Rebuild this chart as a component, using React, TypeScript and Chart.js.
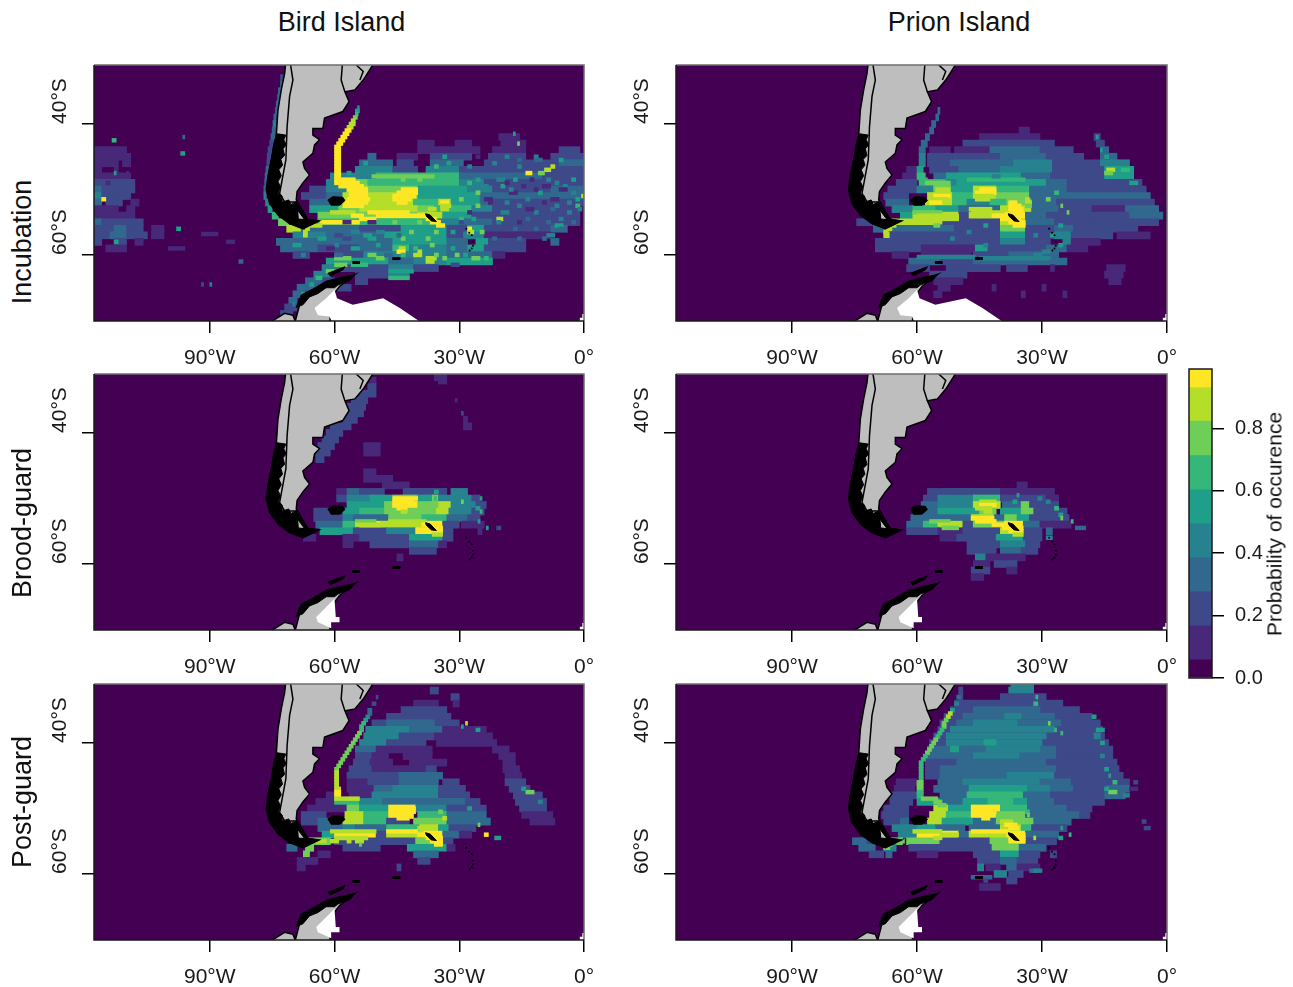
import React, { useEffect, useRef } from "react";
import { Chart, registerables } from "chart.js";

Chart.register(...registerables);

type Row = number[]; // [lat, lon0, lon1, level, lon0, lon1, level, ...]
type Pt = number[]; // [lon, lat]

const levelColors = ["#440154", "#482878", "#3e4989", "#31688e", "#26828e", "#1f9e89", "#35b779", "#6ece58", "#b5de2b", "#fde725"];
const colorbarBreaks = [0, 0.058, 0.167, 0.276, 0.386, 0.495, 0.603, 0.713, 0.823, 0.93, 0.99];
const colorbarTicks = [0, 0.2, 0.4, 0.6, 0.8];
const xTickValues = [-90, -60, -30, 0];
const xTickLabels = ["90°W", "60°W", "30°W", "0°"];
const yTickValues = [-40, -60];
const yTickLabels = ["40°S", "60°S"];

const southAmerica: Pt[] = [[-71.6,-30],[-72,-32.3],[-72.8,-34.8],[-73.6,-37.9],[-74,-41.7],[-75.2,-45.5],[-76,-48],[-76.4,-50],[-75.6,-52.1],[-73.6,-53.9],[-70.8,-55.2],[-67.6,-56],[-63.7,-54.8],[-66.4,-54.6],[-68,-52.9],[-69.2,-51.6],[-69,-50.3],[-67.6,-49],[-66,-47.8],[-67.2,-46.8],[-67.6,-45.8],[-65.2,-44.5],[-64.8,-43.2],[-63.6,-42.4],[-65.2,-41.7],[-65.2,-40.7],[-62.8,-40.7],[-62.4,-39.1],[-58,-38.1],[-56.5,-36.6],[-57.5,-35.1],[-55.1,-34.8],[-53.1,-33.3],[-50.7,-30.9],[-50.3,-30],[-71.6,-30]];
const chileFjords: Pt[] = [[-73.8,-41.5],[-74.6,-43],[-75.2,-45.5],[-76,-48],[-76.4,-50],[-75.6,-52.1],[-73.6,-53.9],[-70.8,-55.2],[-67.6,-56],[-63.7,-54.8],[-66.4,-54.6],[-67.2,-53.7],[-68.5,-52.6],[-69.2,-51.9],[-70.5,-52.3],[-71,-51.6],[-72.4,-51.9],[-72.6,-51],[-73.6,-50.6],[-73,-49.6],[-73.6,-48.8],[-72.8,-47.9],[-73.4,-47],[-72.5,-46.3],[-72.9,-45.4],[-72,-44.8],[-72.4,-43.8],[-71.6,-43.2],[-72.2,-42.4],[-71.7,-41.7],[-73.8,-41.5]];
const fuegoLand: Pt[] = [[-69.2,-52.9],[-67.2,-54.6],[-68.8,-54.5],[-69.2,-52.9]];
const andesBorder: Pt[] = [[-70.8,-30],[-70,-33.3],[-70.8,-35.8],[-71.4,-40.4],[-71.7,-45.5],[-73.2,-50.6],[-72,-51.9],[-69.2,-51.9],[-68.8,-54.1],[-68.8,-55]];
const uruguayWest: Pt[] = [[-58,-30],[-58.4,-33.3],[-57.5,-35.1]];
const uruguayEast: Pt[] = [[-55.1,-30.8],[-53.1,-32],[-53.9,-33.3]];
const falklands: Pt[] = [[-61.6,-51.6],[-60.4,-51.1],[-58,-51.2],[-57.5,-51.7],[-58.8,-52.4],[-60.8,-52.4],[-61.6,-51.6]];
const southGeorgia: Pt[] = [[-38.1,-53.7],[-37,-53.9],[-35.5,-54.9],[-36.7,-54.8],[-37.9,-54.1],[-38.1,-53.7]];
const southOrkney: Pt[] = [[-46,-60.4],[-44.3,-60.4],[-44.3,-60.7],[-46,-60.7],[-46,-60.4]];
const elephantIsland: Pt[] = [[-55.6,-61],[-54,-61],[-54,-61.3],[-55.6,-61.3],[-55.6,-61]];
const southShetland: Pt[] = [[-61.6,-62.8],[-57.5,-61.8],[-58,-62.3],[-61,-63.2],[-61.6,-62.8]];
const southSandwich: Pt[] = [[-28.3,-56],[-27.6,-56.6],[-27,-57],[-26.7,-58],[-26.7,-58.6],[-27,-59],[-27.5,-59.3]];
const peninsula: Pt[] = [[-69.6,-70.5],[-68.4,-67.6],[-66,-65.9],[-62,-64.6],[-58.8,-63.9],[-55.1,-63],[-58.8,-64.8],[-60,-65.8],[-60.5,-67],[-61.2,-70.5],[-69.6,-70.5]];
const peninsulaEdge: Pt[] = [[-69.2,-68],[-68,-66.1],[-65.2,-65.2],[-62,-64],[-58.4,-63.4],[-55.1,-63],[-56.3,-63.9],[-59.2,-64.6],[-60,-65],[-62,-65],[-64,-65.9],[-66,-66.4],[-67.6,-67.6],[-69.2,-68]];
const alexanderLand: Pt[] = [[-76,-70.5],[-72,-68.9],[-70,-69.2],[-69.2,-70.5],[-76,-70.5]];
const iceShelfWide: Pt[] = [[-64.8,-68.1],[-62,-66.6],[-60,-65.3],[-59.4,-66.6],[-55.6,-67.6],[-48.3,-66.6],[-44.3,-68.1],[-38.7,-70.5],[-60.4,-70.5],[-61.2,-69.4],[-64,-69.2],[-64.8,-68.1]];
const iceShelfSmall: Pt[] = [[-64.4,-68.1],[-60,-65.3],[-59.7,-68.1],[-58.8,-68.1],[-58.8,-68.9],[-60.8,-68.9],[-60.8,-69.8],[-64,-68.9],[-64.4,-68.1]];
const iceCorner: Pt[] = [[-1,-70.5],[-1,-69.6],[-0.4,-69.6],[-0.4,-69],[0,-69],[0,-70.5],[-1,-70.5]];

const birdIncubationBroad: Row[] = [
[-33,-73,-72.2,2],[-34,-73,-72.2,3],[-35,-73.5,-72.6,3],[-36,-73.7,-73,3],[-37,-74,-73.4,3],[-38,-74.2,-73.6,3],[-39,-74.6,-74,3],[-40,-74.8,-74,4],[-41,-75,-74.2,3],
[-42,-75.3,-74.3,3,-20.5,-15.5,1],
[-43,-75.6,-74.6,2,-40,-36,1,-31,-27,1,-20,-14,1],
[-44,-118,-110,1,-76,-75,2,-40,-25,1,-22,-14,1,-6,-1,2],
[-45,-118,-109,1,-76.2,-75.2,2,-52,-50,3,-45,-40,1,-37,-27,2,-23,-14,2,-8,0,2],
[-46,-118,-112,1,-111,-109,1,-76.3,-75.5,2,-54,-46,3,-45,-41,2,-37,-29,3,-24,-6,2,-6,0,3],
[-47,-118,-116,1,-113,-112,1,-76.5,-75.8,3,-55,-46,4,-46,-40,2,-38,-30,4,-30,-24,2,-24,0,2],
[-48,-118,-109,1,-76.7,-76,3,-61,-55,4,-55,-50,4,-50,-30,6,-30,-10,3,-10,0,2],
[-49,-118,-108,2,-76.8,-76.2,3,-62,-59,4,-59,-52,7,-52,-30,6,-30,-24,4,-24,0,2],
[-50,-118,-116,3,-116,-108,2,-77,-76.3,3,-66,-62,2,-62,-57,4,-57,-52,8,-52,-40,7,-40,-28,5,-28,-22,4,-22,-8,2,-8,0,3],
[-51,-118,-116,4,-116,-109,2,-77,-76.4,4,-68,-62,2,-62,-58,3,-58,-40,8,-40,-25,5,-25,0,3],
[-52,-118,-116,3,-115,-111,2,-109,-107,1,-76.6,-75.8,4,-66,-58,3,-58,-41,8,-41,-35,6,-35,-32,8,-32,-25,5,-25,-22,3,-22,0,2],
[-53,-118,-112,1,-110,-108,1,-76,-75,5,-66,-59,5,-59,-54,7,-54,-40,8,-40,-36,7,-36,-27,6,-27,-22,4,-22,-1,2],
[-54,-118,-108,1,-75,-73.5,6,-64,-40,7,-40,-34,8,-34,-27,5,-27,-1,2],
[-55,-118,-116,3,-116,-106,2,-73.5,-71,7,-64,-35,6,-35,-30,4,-30,-22,3,-22,-1,2],
[-56,-118,-113,2,-113,-110,3,-110,-106,2,-104,-101,1,-71.5,-67,8,-68,-54,3,-54,-44,2,-44,-33,5,-33,-28,2,-28,-24,5,-24,-8,2,-8,-4,3],
[-57,-118,-114,2,-114,-110,3,-110,-105,2,-104,-101,1,-70,-62,4,-62,-48,3,-48,-33,5,-33,-29,2,-29,-24,4,-24,-8,1],
[-58,-118,-116,2,-113,-110,2,-108,-106,1,-74,-66,3,-66,-46,3,-46,-33,5,-33,-28,3,-26,-23,5,-23,-14,2,-8,-6,3],
[-59,-115,-110,1,-73,-64,3,-64,-54,2,-54,-46,3,-46,-42,6,-42,-33,4,-33,-28,3,-28,-24,5,-24,-14,2],
[-60,-70,-66,2,-60,-53,2,-53,-33,4,-33,-22,3,-22,-19,1],
[-61,-62,-47,5,-47,-41,3,-41,-33,4,-33,-22,5],
[-62,-63,-58,4,-58,-47,2,-47,-41,4,-41,-35,2],
[-63,-65,-61,4,-55,-47,2,-47,-42,4],
[-64,-67,-63,3,-63,-60,2,-55,-52,2],
[-65,-69,-64,3,-64,-56,2],
[-66,-70,-67,3,-67,-64,2],
[-67,-71,-69,3],
[-68,-72,-69,2],
[-69,-73,-70,2],
];
const birdIncubationFine: Row[] = [
[-37.5,-54.5,-54,4],[-38,-55,-54,5],[-38.5,-55,-54.3,6],[-39,-55.5,-54.5,7],[-39.5,-56,-55,8],[-40,-56.5,-55,8],[-40.5,-57,-55.5,8],[-41,-57.5,-56,9],[-41.5,-58,-56.5,9],[-42,-58.5,-57,9],[-42.5,-59,-57.5,9],[-43,-59.5,-58,9],[-43.5,-60,-58.5,9],[-44,-60,-58.5,9],[-44.5,-60,-58.5,9],[-45,-60,-58.5,9],[-45.5,-60,-58.5,9],[-46,-60,-58.5,9],[-46.5,-60,-58.5,9],[-47,-60,-58.5,9],[-47.5,-60,-58.5,9],[-48,-60,-58.5,9,-51,-36,7],
[-48.5,-60,-55,9],[-49,-60,-54,9],[-49.5,-59,-53,9],[-50,-57,-52,9,-44,-40,9],[-50.5,-56.5,-52,9,-45,-40,9],[-51,-56.5,-52,9,-46,-40.5,9],[-51.5,-57,-51.5,9,-46,-41.5,9],[-52,-57.5,-52,9,-45,-42.5,9,-34.5,-32.5,9],[-52.5,-58,-53,9,-34.5,-32,8],
[-53,-37.5,-35.5,8,-34.5,-32.5,8],[-53.5,-61,-55,8,-52,-42,9],[-54,-56,-53,9,-50,-38,9],[-54.5,-54,-50,9,-38,-35.5,9,-21,-19.5,8],[-55,-63.5,-54,9,-37,-34.5,9],[-55.5,-66.5,-63,8,-35.5,-33.5,9],[-56,-67,-66,8,-28,-27,9],[-56.5,-67.5,-66.5,8,-28,-26.5,8],[-57,-67.5,-66.5,8],
[-59,-44.5,-43,8],[-59.5,-45,-43,9,-40,-39,8],[-60,-41,-39,8],[-60.5,-38,-35.5,8],[-61,-38,-36,8],
[-47.5,-14,-12.5,9,-11,-9.5,7],[-47,-9.5,-8,8],[-46.5,-8,-7,8],[-43,-16,-15.5,7],
[-41.5,-17,-16.5,5],[-51,-0.6,0,8],[-52.5,-2,-1,6],[-55.5,-7,-5,5],[-57,-9,-7,4],
[-42,-96.5,-96,3],[-44.5,-97,-96,5],[-47.5,-110,-109.5,1],[-49,-115,-114,1],[-47.5,-113,-112.5,5],[-51.5,-116,-115,9],[-42.5,-113.5,-112.5,6],[-56,-98,-97,5],[-58,-113,-112,5],[-61,-83,-82,3],[-64.5,-90,-89.5,4],[-64.5,-92,-91.5,2],[-56.8,-92,-88,1],[-58,-86,-84,1],[-59,-100,-96,1],
[-47.5,-57,-56,5],[-46,-53,-52,5,-33,-32,5,-22,-21,4],[-45,-34,-33,5,-26,-25,1,-19,-18,4,-12,-11,4],[-46.5,-36,-35,6,-28,-27,4,-16,-15,4],
[-49.5,-24,-23,4,-20,-19,5,-15,-14,1,-10,-8,1,-5,-4,4],[-50.5,-26,-25,7,-18,-16,1,-11,-10,5,-3,-2,4],[-51.5,-30,-29,7,-24,-22,1,-14,-13,4,-8,-6,1,-2,-1,5],[-52.5,-26,-25,7,-16,-15,4,-7,-6,4],[-53.5,-28,-27,1,-20,-18,4,-12,-11,4,-4,-3,4],[-54.5,-30,-29,6,-27,-26,5,-14,-13,3,-6,-5,4],
[-55,-58,-56,1,-52,-50,1,-46,-45,7,-40,-39,7,-30,-29,2],[-56.5,-56,-54,4,-50,-48,4,-42,-41,7,-36,-35,7,-32,-31,5,-25,-24,7],[-57.5,-64,-62,5,-58,-56,2,-52,-50,5,-44,-43,7,-38,-37,7],[-58.5,-70,-68,5,-60,-59,4,-50,-49,5,-37,-36,7],[-60,-52,-50,7,-44,-43,6,-36,-35,7,-31,-30,7],[-60.5,-60,-56,7,-50,-48,7,-34,-33,7,-27,-25,7,-24,-23,6],[-61.5,-60,-57,7,-56,-52,6,-32,-30,2],
[-62.5,-62,-60,7,-47,-41,5],[-63.5,-64.5,-63,6,-47,-42,6],[-64.5,-66,-65,5],[-66,-68,-67,5],[-67.5,-70,-69.5,4],
[-45.5,-16,-15,3,-12,-10,3,-6,-5,5],[-48.5,-26,-25,5,-21,-19,4,-17,-16,5,-13,-12,1,-9,-8,4,-3,-2,5],[-49,-28,-27,6,-19,-18,1,-7,-6,4],[-50,-18,-17,4,-12,-11,1,-6,-4,1],[-52,-23,-22,1,-19,-18,4,-10,-9,1,-4,-3,4],[-53,-14,-12,1,-8,-7,3,-1.5,-0.5,4],[-55,-21,-20,4,-16,-15,1,-9,-8,3,-3,-2,3],[-56,-17,-16,3,-12,-11,3,-6,-5,3],[-57.5,-22,-21,3,-16,-15,3,-10,-9,3],
[-48.5,-44,-43,7,-40,-39,7],[-57,-60,-58,2,-53,-51,5,-45,-44,3],[-59,-62,-60,1,-56,-54,5,-41,-40,6,-32,-31,5],[-60,-68,-67,4,-60,-58,3,-48,-46,3,-29,-28,5],
];

const prionIncubationBroad: Row[] = [
[-38,-55,-54.5,3],[-39,-55.5,-54.8,3],[-40,-56.5,-55.5,3],
[-41,-57,-56,3,-35.5,-33,1],
[-42,-58,-57,3,-45,-30.5,1,-17.5,-16,2],
[-43,-59,-57.5,3,-49,-27,2,-17,-15,2],
[-44,-59.5,-58,3,-57,-52,1,-51,-42.5,1,-42.5,-30.5,3,-30.5,-22.5,2,-16,-14,3],
[-45,-59.5,-58,4,-57.5,-51.5,2,-51.5,-40,2,-40,-29,3,-29,-20,2,-16,-12,3],
[-46,-59.5,-58,4,-57.5,-52,2,-52,-40,3,-37,-27.5,4,-40,-37,3,-27.5,-16,2,-16,-9,4],
[-47,-62.5,-60,1,-60,-58.5,5,-57,-50,2,-50,-40,3,-40,-27.5,4,-27.5,-15,2,-15,-8,5],
[-48,-63.5,-60,1,-60,-58,6,-56,-53,3,-53,-35,5,-35,-28,3,-28,-15,2,-15,-8,5],
[-49,-65,-60,2,-59.5,-53,6,-53,-50.5,4,-50.5,-29,5,-29,-24,3,-24,-6,2],
[-50,-67,-60,2,-60,-56,4,-56,-52,7,-52,-46.5,5,-46.5,-41,8,-41,-33,6,-33,-24,3,-24,-5,2],
[-51,-68,-62,2,-57.5,-51.5,8,-51.5,-46.5,6,-46.5,-41,8,-41,-33,7,-33,-26,3,-26,-4,3],
[-52,-67.5,-62,3,-58,-51.5,8,-51.5,-48,6,-48,-42.5,4,-42.5,-38.5,6,-38.5,-32.5,7,-32.5,-26.5,3,-26.5,-3,2],
[-53,-66,-61,4,-61,-55.5,6,-55.5,-50,5,-50,-40,3,-40,-32.5,8,-32.5,-26,3,-26,-18,2,-18,-10,1,-10,-2,3],
[-54,-64,-61,5,-61,-50,8,-50,-47.5,2,-47.5,-40,8,-40,-34,9,-34,-29,3,-29,-18,2,-18,-9,2,-9,-1,3],
[-55,-74.5,-69,2,-66,-54.5,8,-54.5,-40,2,-40,-34,8,-34,-27,3,-27,-18,2,-18,-2,2],
[-56,-70.5,-68,3,-68,-51,3,-51,-40,2,-40,-34,7,-34,-27,2,-27,-22.5,3,-22.5,-7,2],
[-57,-68,-66.5,8,-66.5,-40,2,-40,-34,5,-34,-27,2,-27,-23,4,-23,-13,2,-12,-4,1],
[-58,-70,-40,2,-40,-34,4,-34,-28,2,-25,-23,4,-23,-16,1],
[-59,-70,-59,2,-59,-46,1,-46,-43,5,-43,-29,2,-29,-24,3,-24,-19,1],
[-60,-66,-62,1,-59,-47,1,-46.5,-38,2,-38,-30.5,3,-30.5,-26,3],
[-61,-62,-54.5,3,-54.5,-46.5,2,-46.5,-24,3],
[-62,-62.5,-57,2,-53,-40,2,-38.5,-33.5,2,-28,-27,1,-14.5,-10,1],
[-63,-57,-48,2,-15,-10.5,1],
[-64,-56,-49,1,-14,-11,1],
[-65,-55,-52,1,-42,-41,1,-30,-29,1],
[-66,-56,-54,1,-35,-34,1,-25,-24,1],
];
const prionIncubationFine: Row[] = [
[-48.5,-59.5,-57.5,6],[-49,-58,-52,7],[-49.5,-56,-52,7],[-50,-55.5,-52,8],[-50.5,-55.5,-52,8],[-51,-56,-52,9],[-51.5,-56,-52.5,8],[-52,-57,-54,9],
[-50,-45,-41,9],[-50.5,-46,-41,9],[-51,-46.5,-41.5,8],[-51.5,-46,-42.5,8],
[-48.5,-48,-34,6],[-53.5,-61,-54,7],[-54,-60,-50,8],[-54.5,-55,-50,8],
[-53,-47.5,-42,8],[-53.5,-47,-39,8],[-54,-42,-38,9],[-54.5,-40,-35,9],[-55,-38,-34,9],[-55.5,-37,-34,9],
[-52,-38,-36,9],[-52.5,-38,-35,9],[-53,-38,-34.5,9],[-53.5,-37,-34.5,9],[-51.5,-34,-33,8],[-52,-34,-32.5,8],[-52.5,-34,-32.5,7],
[-55,-65,-62,8,-61,-60,8,-59,-54,8],[-55.5,-66,-65,8,-56,-54.5,7],[-56,-67.5,-66,8],[-56.5,-68,-67,8],
[-47,-14.5,-12.5,8],[-47.5,-15,-13,7],[-47,-11,-9,6],[-49,-9,-7,5],[-45,-15,-14,5],[-42,-17,-16.5,5],[-44,-16,-15.5,5],
[-51.5,-29,-28,7],[-50.5,-27,-26,6],[-52.5,-25.5,-25,7],[-53.5,-24,-23.5,7],[-55.5,-26,-25,5],[-46,-18,-17,2],
[-60.3,-60,-46,4],[-60.5,-45,-28,4],[-57,-28,-27,5],[-58.5,-26,-25,5],[-59.5,-30,-28,4],[-60,-32,-30,4],
[-48,-42,-40,4],[-55.5,-44,-43,5],[-56.5,-48,-47,4],[-57.5,-52,-51,4],[-58.5,-44,-43,4],[-57,-32,-31,4],
];

const birdBroodBroad: Row[] = [
[-31.5,-36,-33,1],[-32,-51.5,-50,1,-35,-33,1],[-33,-52,-50,2],[-34,-54,-50,2],[-35,-56,-52,2],[-36,-57,-52.5,2],[-37,-57,-53,2],[-38,-58,-54.5,2,-29,-28,1],[-39,-61,-56,2,-29,-27,1],[-40,-62,-58,2],[-41,-63,-59,2],[-42,-64,-60,2,-53,-49,1],[-43,-64.5,-61,2,-53,-49,1],[-44,-64.5,-62.5,2],
[-46,-53,-50,1],[-47,-53,-50,1,-50,-46,1],[-48,-48.5,-42,1],
[-49,-59.5,-57,1,-57,-54,3,-54,-48,2,-43.5,-33,2,-32,-28,4],
[-50,-59.5,-57,2,-57,-51.5,4,-51.5,-46,5,-46,-40,7,-40,-36.5,5,-36.5,-35,7,-35,-27,4,-27,-25,2],
[-51,-57,-48,5,-48,-46,7,-46,-40,9,-40,-35,7,-35,-32,8,-32,-26,4,-26,-23.5,2],
[-52,-65,-61,2,-58,-54,5,-54,-48,6,-48,-40,7,-40,-35.5,7,-35.5,-32.5,8,-32.5,-27,4,-27,-24,2],
[-53,-65,-58,2,-58,-55.5,4,-55.5,-47,3,-47,-39,7,-39,-33,6,-33,-28,3,-28,-25,2],
[-54,-64.5,-58,3,-58,-54,6,-54,-49,9,-49,-38,8,-38,-34,9,-34,-30,2,-29.5,-24,1],
[-55,-63.5,-55.5,5,-55.5,-47.5,2,-47.5,-40.5,4,-40.5,-34,9,-34,-31.5,2,-25.5,-24.5,1],
[-56,-67.5,-64.5,1,-58,-54,1,-54,-42,2,-42,-34,5,-34,-31.5,2],
[-57,-58,-55.5,1,-51.5,-42,2,-42,-35,3,-35,-33,1],
[-58,-42,-35.5,2],
[-59,-45,-43.5,1],
];
const birdBroodFine: Row[] = [
[-50,-46,-40,9],[-50.5,-46,-41,9],[-51,-46,-41.5,9],[-51.5,-45,-42.5,9],[-52,-44,-42.5,8],
[-53.5,-47,-38,8],[-54,-39,-36,9],[-54.5,-38,-34,9],[-55,-37,-34,9],[-55.5,-36.5,-34,8],
[-53.5,-55,-50,7],[-54,-55,-49,8],
[-50,-25,-24.5,5],[-50.5,-29.5,-29,7],[-51.5,-26,-25,5],[-52,-25,-24.5,6],[-53.5,-25.5,-25,5],[-54.5,-23.5,-23,5],[-54.5,-21,-20,2],
[-37,-29.5,-29,2],[-35,-31,-30.5,1],[-49,-36,-35,5],[-50,-36,-35.5,6],
];

const prionBroodBroad: Row[] = [
[-48,-36,-33.5,1],
[-49,-57.5,-53,2,-53,-40,2,-40,-27,1],
[-50,-58.5,-55,2,-55,-46.5,4,-46.5,-40,6,-40,-35,2,-35,-29,2,-29,-26,1],
[-51,-59,-55,3,-55,-46.5,4,-46.5,-40,8,-39.5,-35,3,-35,-33,7,-33,-26,2],
[-52,-60,-55,3,-55,-45,5,-45,-41,7,-40,-35,5,-35,-32,7,-32,-24,2],
[-53,-61.5,-56,3,-56,-49,3,-49,-47,3,-47,-41.5,8,-41.5,-39,3,-39,-36,7,-36,-33,5,-33,-23.5,2],
[-54,-62.5,-58.5,3,-58.5,-54.5,6,-54.5,-49,8,-49,-46.5,2,-46.5,-39,7,-39,-34.5,9,-34.5,-30.5,3,-30.5,-23,1],
[-55,-62.5,-55,2,-55,-49,1,-49,-40,2,-40,-34.5,8,-34.5,-30,2,-29,-27.5,3],
[-56,-54.5,-50.5,1,-50.5,-41,2,-41,-34.5,5,-34.5,-30,2],
[-57,-48,-40,2,-40,-34,4,-34,-30.5,2],
[-58,-48,-45,2,-45,-41,2,-40,-35,3,-35,-31,2],
[-59,-46,-43.5,4,-43.5,-34,1],
[-60,-46.5,-42.5,1,-41.5,-36,2],
[-61,-47,-42.5,2,-38.5,-36,1],
[-62,-47,-44,1],
];
const prionBroodFine: Row[] = [
[-50.5,-45,-41,8],[-51,-45,-41,9],[-51.5,-46,-42,8],[-52,-44,-42,8],
[-53,-47,-41.5,9],[-53.5,-46,-41,9],[-54,-42,-38,9],[-54.5,-39.5,-34.5,9],[-55,-38,-34.5,9],[-55.5,-37,-34.5,8],
[-53.5,-57,-52,7],[-54,-55,-50,8],[-54.5,-54,-50,7],
[-50,-31,-30,4],[-50.5,-29,-28,4],[-51.5,-27,-26,6],[-52.5,-26,-25,5],[-53,-25.5,-25,7],[-53.5,-23,-22.5,6],[-54.5,-22,-19.5,3],
[-56,-29,-27.5,4],[-49.5,-36,-35.5,5],[-50.5,-37,-36,5],
];

const birdPostBroad: Row[] = [
[-32,-37,-35,2],[-33,-32,-30,2],[-34,-41,-35,1,-31.5,-30,1],
[-35,-44,-33,2],
[-36,-47.5,-32,2],
[-37,-51,-30,2,-47.5,-36,3],
[-38,-52.5,-42,4,-42,-34,3,-34,-23.5,1],
[-39,-53,-44.5,4,-44.5,-36,2,-36,-22,1],
[-40,-54,-47.5,4,-47.5,-38,2,-35.5,-21,1],
[-41,-55,-50,3,-50,-46.5,1,-46.5,-36.5,1,-22,-18,1],
[-42,-55,-51,2,-51,-47,1,-43.5,-36.5,1,-20.5,-16.5,1],
[-43,-55.5,-51.5,2,-51.5,-46,1,-42,-33,1,-19.5,-16.5,1],
[-44,-56.5,-51,2,-51,-47.5,1,-47.5,-36,1,-38,-35.5,2,-19.5,-15.5,1],
[-45,-57,-50,2,-50,-44.5,2,-44.5,-34,3,-19,-15,1],
[-46,-57,-52,1,-52,-44.5,2,-44.5,-35,3,-34,-30,2,-19,-14,2],
[-47,-57,-50.5,1,-50.5,-46,3,-46,-35,4,-35,-28.5,2,-18,-13,2],
[-48,-62,-60,1,-56.5,-51,1,-51,-35,4,-35,-27.5,2,-17,-10,2],
[-49,-64.5,-60,1,-60,-54,6,-54,-48.5,4,-48.5,-28.5,3,-28.5,-25,2,-16.5,-9,2],
[-50,-66.5,-61,1,-61,-57,1,-57,-54,7,-54,-47,5,-47,-40.5,9,-40.5,-33,4,-33,-23.5,2,-15.5,-9,2],
[-51,-68,-62,2,-57.5,-53,8,-53,-47,6,-47,-41,9,-40,-33,6,-33,-23.5,3,-15,-7.5,1],
[-52,-68,-64,2,-64,-61,3,-58,-53,8,-53,-47.5,6,-47.5,-42,2,-41,-33,7,-33,-22.5,3,-13,-7,1],
[-53,-64,-58,3,-58,-55,4,-55,-47.5,3,-47.5,-39.5,6,-39.5,-35,8,-35,-32.5,5,-32.5,-26,2],
[-54,-63,-60,5,-60,-50,9,-50,-47.5,2,-47.5,-38.5,8,-38.5,-34,9,-34,-30,3,-30,-27,1],
[-55,-66,-61,7,-60,-50,2,-50,-40.5,2,-40.5,-34,7,-34,-31.5,2],
[-56,-71.5,-69,3,-67,-65,7,-58,-49,2,-42.5,-33,5,-33,-31,1],
[-57,-67.5,-66,7,-41,-35,3,-64,-61,1],
[-58,-69,-64.5,1,-40,-37,2,-66.5,-64,1],
[-59,-69,-67,1,-45,-44,2],
];
const birdPostFine: Row[] = [
[-33,-50,-49.5,2],[-34,-51,-50,2],[-35,-52,-51,3],[-35.5,-52,-51,3],[-36,-52.5,-51.5,4],[-36.5,-53,-52,5],[-37,-53.5,-52.5,6],[-37.5,-54,-53,6],[-38,-54,-53,6],[-38.5,-54.5,-53.5,7],[-39,-55,-54,7],[-39.5,-55.5,-54.5,7],[-40,-56,-55,7],[-40.5,-56.5,-55.5,7],[-41,-57,-56,7],[-41.5,-57.5,-56.5,7],[-42,-58,-57,7],[-42.5,-58.5,-57.5,7],[-43,-59,-58,7],[-43.5,-59.5,-58.5,7],[-44,-60,-59,7],[-44.5,-60,-59,8],[-45,-60,-59,8],[-45.5,-60,-59,8],[-46,-60,-59,8],[-46.5,-60,-59,8],[-47,-60,-58.5,8],[-47.5,-60,-58.5,9],[-48,-60,-58.5,9],[-48.5,-60,-54,8],
[-50,-46,-40.5,9],[-50.5,-46.5,-40.5,9],[-51,-46.5,-41.5,9],[-51.5,-45,-42,9],
[-53,-40,-38,8],[-53.5,-61,-50,8,-47.5,-40,9],[-54,-40,-35,9],[-54.5,-38,-34,9],[-55,-37,-34,9],[-55.5,-36,-34,9],
[-54.5,-60,-52,8],[-55,-66,-62,8,-61,-59,8,-57,-56,8,-55,-53,8],[-55.5,-67,-65,7,-54,-53.5,7],
[-51.5,-34,-33,8],[-50.5,-35,-34,7],[-52.5,-25.5,-25,7],[-54,-24,-23,9],[-54.5,-21.5,-20,5],[-37,-28.5,-28,8],[-37.5,-29.5,-29,5],[-38,-26,-25,5],[-47.5,-14,-12,7],[-47,-15,-14,5],[-49,-11,-10,4],[-50,-28,-27,5],
];

const prionPostBroad: Row[] = [
[-31.5,-37.5,-32,4],[-32,-50,-49,2,-38,-32,4],
[-33,-50,-49,2,-40,-29,2],
[-34,-51,-25,2],
[-35,-52,-21,2,-46.5,-30.5,3],
[-36,-53.5,-18,2,-49,-27,3,-39,-35,4],
[-37,-54.5,-16,2,-50.5,-25.5,3,-46.5,-36,4],
[-38,-55,-15.5,2,-52,-27,4],
[-39,-56,-15,2,-53,-29,4,-17.5,-16,4],
[-40,-57,-14,2,-53,-30,4,-44,-41,5],
[-41,-57.5,-26.5,3,-52,-50,5,-48,-43.5,3,-43.5,-30.5,4,-26.5,-13,2],
[-42,-58,-26.5,3,-46.5,-35.5,4,-26.5,-13,2],
[-43,-58,-50.5,2,-50.5,-29,3,-29,-12,2],
[-44,-58,-54.5,2,-54.5,-26.5,3,-26.5,-11.5,2],
[-45,-58,-54.5,2,-54.5,-38.5,3,-38.5,-27,4,-27,-10.5,2],
[-46,-65,-60,1,-55,-49,3,-49,-30.5,4,-30.5,-23,3,-23,-9,2],
[-47,-65.5,-60.5,1,-56,-47.5,3,-47.5,-33.5,5,-33.5,-28,4,-28,-22.5,3,-22.5,-14.5,2,-14.5,-9,3],
[-48,-66.5,-60,2,-60,-58.5,6,-54.5,-48,3,-48,-34.5,6,-34.5,-28,3,-28,-15,2,-15,-10,3],
[-49,-66.5,-61,2,-60,-54.5,5,-54.5,-49,3,-49,-33.5,5,-43,-37,6,-33.5,-27,3,-27,-15,2],
[-50,-68,-62,2,-56,-52.5,8,-52.5,-47,5,-47,-40,9,-40,-33.5,6,-33.5,-24,3,-24,-18,2],
[-51,-68.5,-62,2,-57,-53,8,-53,-47,6,-47,-41,9,-41,-34,7,-34,-21,3,-21,-18.5,2],
[-52,-68,-64,2,-64,-62,3,-57.5,-54,8,-54,-46.5,5,-46.5,-41,3,-41,-32,7,-32,-23,3],
[-53,-66,-60,4,-60,-55.5,5,-55.5,-48.5,3,-47.5,-40,3,-40,-35,8,-35,-32.5,6,-32.5,-24,2],
[-54,-64.5,-59.5,4,-60,-50,9,-50,-47.5,3,-47.5,-38.5,8,-38.5,-34,9,-34,-26,3],
[-55,-75.5,-72,3,-72,-67.5,2,-66,-63.5,7,-62.5,-54.5,7,-54.5,-42.5,2,-42.5,-34,7,-34,-26.5,2],
[-56,-74,-70,3,-68,-65,4,-62,-51,2,-51,-42,2,-42,-35.5,7,-35.5,-29,3],
[-57,-71.5,-68,2,-67.5,-66,3,-60,-55,1,-46.5,-40,2,-40,-35.5,5,-35.5,-30.5,2,-28,-26.5,2],
[-58,-45.5,-40,2,-40,-36,3,-36,-31,2],
[-59,-45.5,-44,4,-43.5,-40,1,-38.5,-36,3,-36,-30.5,1],
[-60,-41.5,-38.5,4,-38,-34.5,2],
[-61,-38.5,-36,2],
[-62,-45,-40,1],
];
const prionPostFine: Row[] = [
[-33,-50.5,-49.5,3],[-34,-51,-50,4],[-35,-52,-51,5],[-35.5,-52.5,-51.5,8],[-36,-53,-52,8],[-36.5,-53.5,-52.5,7],[-37,-54,-53,7],[-37.5,-54,-53,7],[-38,-54.5,-53.5,6],[-38.5,-55,-54,6],[-39,-55.5,-54.5,6],[-39.5,-56,-55,7],[-40,-56.5,-55.5,7],[-40.5,-57,-56,7],[-41,-57.5,-56.5,7],[-41.5,-58,-57,7],[-42,-58.5,-57.5,6],[-42.5,-59,-58,6],[-43,-59.5,-58.5,6],[-43.5,-59.5,-58.5,6],[-44,-59.5,-58.5,6],[-44.5,-59.5,-58.5,6],[-45,-59.5,-58.5,6],[-45.5,-59.5,-58.5,6],[-46,-60,-58.5,7],[-46.5,-60,-58.5,7],[-47,-60,-58.5,7],[-47.5,-60,-58.5,6],
[-48.5,-59,-55,7],[-49,-56,-54,7],[-49.5,-55,-53,7],
[-50,-46,-41,9],[-50.5,-46.5,-41,9],[-51,-46,-41.5,9],[-51.5,-44.5,-42.5,9],
[-52,-40,-37,8],[-52.5,-39,-36,9],[-53,-38,-35.5,9],[-53.5,-61,-54,8,-47,-38,9],[-54,-54.5,-50,8,-38,-34,9],[-54.5,-56,-54,8,-38,-34,9],[-55,-66,-63,7,-38,-34,9],[-55.5,-67,-66,7],[-56,-68,-66.5,7],
[-52,-34,-33,7],[-50.5,-34,-33,6],[-51,-33.5,-33,7],[-54.5,-32,-31.5,8],[-53,-25.5,-25,5],[-54,-23.5,-23,6],[-37,-28.5,-28,7],[-38,-27,-26.5,6],[-38.5,-25.5,-25,6],
[-33,-31.5,-31,6],[-34,-32,-31,6],[-36,-18,-17,5],[-38,-17,-15,5],[-40,-16,-15,5],[-42,-16,-15,4],[-44,-15,-14,5],[-45,-14,-13.5,5],[-47.5,-14,-12,7],[-47,-15,-14,5],[-46,-13,-12,6],
[-48,-10.5,-9,4],[-47,-9,-7,1],[-46,-8,-7,2],[-52,-6,-5,2],[-53,-5.5,-4,2],[-54.5,-26,-25,5],[-59.5,-33,-31,3],[-59.5,-32,-30,4],[-60.5,-47,-42,3],[-61,-44,-43,2],
];

const panels = [
  { broad: birdIncubationBroad, fine: birdIncubationFine, ice: iceShelfWide },
  { broad: prionIncubationBroad, fine: prionIncubationFine, ice: iceShelfWide },
  { broad: birdBroodBroad, fine: birdBroodFine, ice: iceShelfSmall },
  { broad: prionBroodBroad, fine: prionBroodFine, ice: iceShelfSmall },
  { broad: birdPostBroad, fine: birdPostFine, ice: iceShelfSmall },
  { broad: prionPostBroad, fine: prionPostFine, ice: iceShelfSmall },
];
const FONT = '"Liberation Sans", Arial, sans-serif';

function cells(rows: Row[]) {
  const out: { x: number[]; y: number; c: string }[] = [];
  for (const r of rows) for (let i = 1; i + 2 < r.length; i += 3) out.push({ x: [r[i], r[i + 1]], y: r[0], c: levelColors[r[i + 2]] });
  return out;
}
function heat(rows: Row[], thickness: number, order: number) {
  const data = cells(rows);
  return { type: "bar", indexAxis: "y", grouped: false, barThickness: thickness, order, data, backgroundColor: data.map((d) => d.c), borderWidth: 0 };
}
function shape(pts: Pt[], fillColor: string, line: string | null, width: number, order: number) {
  return {
    type: "line", order, data: pts.map(([x, y]) => ({ x, y })), fill: fillColor ? "shape" : false, backgroundColor: fillColor,
    borderColor: line || "rgba(0,0,0,0)", borderWidth: line ? width : 0, pointRadius: 0, tension: 0,
  };
}

const plotFrame = {
  id: "plotFrame",
  beforeDatasetsDraw(chart: any) {
    const { ctx, chartArea: a } = chart;
    ctx.save();
    ctx.fillStyle = levelColors[0];
    ctx.fillRect(a.left, a.top, a.right - a.left, a.bottom - a.top);
    ctx.restore();
  },
  afterDatasetsDraw(chart: any) {
    const { ctx, chartArea: a } = chart;
    ctx.save();
    ctx.strokeStyle = "#6e6e6e";
    ctx.lineWidth = 1.5;
    ctx.beginPath(); ctx.moveTo(a.left, a.top); ctx.lineTo(a.right, a.top); ctx.lineTo(a.right, a.bottom); ctx.stroke();
    ctx.strokeStyle = "#1a1a1a";
    ctx.beginPath(); ctx.moveTo(a.left, a.top); ctx.lineTo(a.left, a.bottom); ctx.lineTo(a.right, a.bottom); ctx.stroke();
    ctx.restore();
  },
  beforeDraw(chart: any) {
    const s = chart.scales.y;
    const a = chart.chartArea;
    for (const item of s.getLabelItems(a)) {
      item.options.textAlign = "left";
      item.options.textBaseline = "alphabetic";
      item.options.translation[0] = a.left - 28;
    }
  },
};

function Panel({ index }: { index: number }) {
  const ref = useRef<HTMLCanvasElement>(null);
  const col = index % 2;
  const row = Math.floor(index / 2);
  const plotTop = [65, 374, 684][row];
  const canvasLeft = col === 0 ? 40 : 622;
  const plotRight = col === 0 ? 584 : 1167;
  const canvasTop = plotTop - 10;
  const canvasRight = plotRight + 22;
  const width = canvasRight - canvasLeft;
  const height = 10 + 256 + 50;
  useEffect(() => {
    const p = panels[index];
    const chart = new Chart(ref.current as HTMLCanvasElement, {
      type: "bar",
      plugins: [plotFrame],
      data: {
        datasets: [
          heat(p.broad, 7, 100), heat(p.fine, 3.8, 90),
          shape(southAmerica, "#bebebe", "#000000", 1.5, 60),
          shape(chileFjords, "#000000", "#000000", 1, 55),
          shape(fuegoLand, "#bebebe", "#000000", 1, 54),
          shape(andesBorder, "", "#000000", 1.5, 50),
          shape(uruguayWest, "", "#000000", 1.5, 50),
          shape(uruguayEast, "", "#000000", 1.5, 50),
          shape(falklands, "#000000", "#000000", 1, 50),
          shape(southGeorgia, "#000000", "#000000", 1, 50),
          shape(southOrkney, "#000000", "#000000", 1, 50),
          shape(elephantIsland, "#000000", "#000000", 1, 50),
          shape(southShetland, "#000000", "#000000", 1, 50),
          { ...shape(southSandwich, "", null, 0, 50), showLine: false, pointRadius: 1, pointBackgroundColor: "#000", pointBorderWidth: 0 },
          shape(peninsula, "#bebebe", "#000000", 1.5, 46),
          shape(peninsulaEdge, "#000000", "#000000", 1, 45),
          shape(alexanderLand, "#bebebe", "#000000", 1.5, 45),
          shape(p.ice, "#ffffff", null, 0, 40),
          shape(iceCorner, "#ffffff", null, 0, 40),
        ],
      } as any,
      options: {
        responsive: false,
        animation: false,
        events: [],
        layout: { padding: { top: 10, right: canvasRight - plotRight, left: 0, bottom: 0 } },
        plugins: { legend: { display: false }, tooltip: { enabled: false }, title: { display: false } },
        scales: {
          x: {
            type: "linear", min: -117.84, max: 0, offset: false, beginAtZero: false,
            afterBuildTicks: (s: any) => { s.ticks = xTickValues.map((value) => ({ value })); },
            afterFit: (s: any) => { s.height = 50; s.paddingLeft = 0; s.paddingRight = 0; },
            grid: { offset: false, drawOnChartArea: false, color: "#000", lineWidth: 1.5, tickLength: 12 },
            border: { display: false },
            ticks: { autoSkip: false, maxRotation: 0, color: "#1a1a1a", padding: 13, font: { family: FONT, size: 21 }, callback: (v: any) => xTickLabels[xTickValues.indexOf(v)] },
          },
          y: {
            type: "linear", min: -70.08, max: -31, offset: false, beginAtZero: false,
            afterBuildTicks: (s: any) => { s.ticks = yTickValues.map((value) => ({ value })); },
            afterFit: (s: any) => { s.width = 54; s.paddingTop = 0; s.paddingBottom = 0; },
            grid: { offset: false, drawOnChartArea: false, color: "#000", lineWidth: 1.5, tickLength: 12 },
            border: { display: false },
            ticks: { autoSkip: false, minRotation: 90, maxRotation: 90, color: "#1a1a1a", font: { family: FONT, size: 21 }, callback: (v: any) => yTickLabels[yTickValues.indexOf(v)] },
          },
        },
      } as any,
    });
    return () => chart.destroy();
  }, [index]);
  return <canvas ref={ref} width={width} height={height} style={{ position: "absolute", left: canvasLeft, top: canvasTop }} />;
}

function Colorbar() {
  const ref = useRef<HTMLCanvasElement>(null);
  useEffect(() => {
    const chart = new Chart(ref.current as HTMLCanvasElement, {
      type: "bar",
      data: {
        labels: ["p"],
        datasets: levelColors.map((c, i) => ({ data: [[colorbarBreaks[i], colorbarBreaks[i + 1]]], backgroundColor: c, borderWidth: 0, grouped: false, categoryPercentage: 1, barPercentage: 1 })),
      } as any,
      plugins: [{
        id: "barFrame",
        afterDatasetsDraw(c: any) {
          const { ctx, chartArea: a } = c;
          ctx.save(); ctx.strokeStyle = "#1a1a1a"; ctx.lineWidth = 1.5;
          ctx.strokeRect(a.left, a.top, a.right - a.left, a.bottom - a.top);
          ctx.restore();
        },
      }],
      options: {
        responsive: false, animation: false, events: [],
        layout: { padding: { left: 19, top: 14, bottom: 17, right: 0 } },
        plugins: { legend: { display: false }, tooltip: { enabled: false } },
        scales: {
          x: { display: false },
          y: {
            position: "right", min: 0, max: 0.99, offset: false,
            afterBuildTicks: (s: any) => { s.ticks = colorbarTicks.map((value) => ({ value })); },
            afterFit: (s: any) => { s.width = 81; s.paddingTop = 0; s.paddingBottom = 0; },
            grid: { drawOnChartArea: false, color: "#000", lineWidth: 1.5, tickLength: 12 },
            border: { display: false },
            ticks: { color: "#1a1a1a", padding: 11, font: { family: FONT, size: 20 }, callback: (v: any) => Number(v).toFixed(1) },
          },
        },
      } as any,
    });
    return () => chart.destroy();
  }, []);
  return <canvas ref={ref} width={123} height={340} style={{ position: "absolute", left: 1170, top: 355 }} />;
}

const columnTitles = [
  { text: "Bird Island", cx: 341.5 },
  { text: "Prion Island", cx: 959 },
];
const rowLabels = [
  { text: "Incubation", cy: 242 },
  { text: "Brood-guard", cy: 523 },
  { text: "Post-guard", cy: 802 },
];

function SideLabel({ text, cx, cy, size, angle }: { text: string; cx: number; cy: number; size: number; angle: number }) {
  return (
    <div style={{ position: "absolute", left: cx, top: cy, whiteSpace: "nowrap", fontFamily: FONT, fontSize: size, color: "#111", lineHeight: 1, transform: `translate(-50%,-50%) rotate(${angle}deg)` }}>{text}</div>
  );
}

export default function App() {
  return (
    <div style={{ position: "absolute", left: 0, top: 0, width: 1293, height: 987, background: "#fff", overflow: "hidden" }}>
      {panels.map((_, i) => <Panel key={i} index={i} />)}
      <Colorbar />
      {columnTitles.map((t) => <SideLabel key={t.text} text={t.text} cx={t.cx} cy={22} size={27} angle={0} />)}
      {rowLabels.map((r) => <SideLabel key={r.text} text={r.text} cx={22} cy={r.cy} size={27} angle={-90} />)}
      <SideLabel text="Probability of occurence" cx={1274} cy={524} size={21} angle={-90} />
    </div>
  );
}
